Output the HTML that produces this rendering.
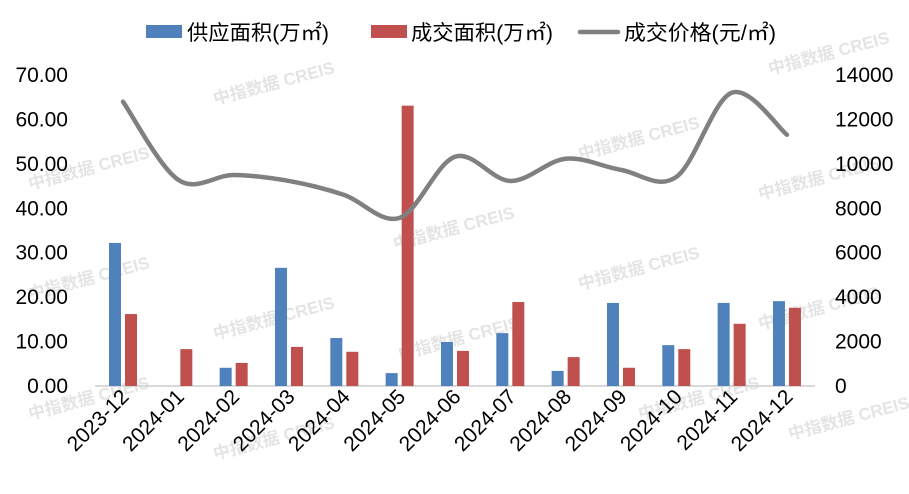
<!DOCTYPE html>
<html><head><meta charset="utf-8"><style>
body{margin:0;background:#fff}
svg{display:block;font-family:"Liberation Sans","Noto Sans CJK SC",sans-serif}
</style></head><body>
<svg id="c" width="909" height="494" viewBox="0 0 909 494">
<g id="wm" fill="#d9d9d9" font-size="17" font-weight="bold" opacity="0.7"></g>
<g id="ax"></g><g id="bars"></g><g id="ln"></g>
<g font-size="21" fill="#000">
<rect x="146" y="25" width="36" height="13" fill="#4f81bd"/>
<text x="187" y="40" textLength="142" lengthAdjust="spacingAndGlyphs">供应面积(万㎡)</text>
<rect x="371" y="25" width="36" height="13" fill="#c0504d"/>
<text x="411" y="40" textLength="142" lengthAdjust="spacingAndGlyphs">成交面积(万㎡)</text>
<line x1="580" y1="32" x2="618" y2="32" stroke="#808080" stroke-width="4.5" stroke-linecap="round"/>
<text x="624" y="40" textLength="152" lengthAdjust="spacingAndGlyphs">成交价格(元/㎡)</text>
</g>
</svg>
<script>
const categories=["2023-12","2024-01","2024-02","2024-03","2024-04","2024-05","2024-06","2024-07","2024-08","2024-09","2024-10","2024-11","2024-12"];
const supply=[32.2,0,4.1,26.6,10.8,2.9,9.9,11.9,3.4,18.7,9.2,18.7,19.1];
const deal=[16.2,8.3,5.2,8.8,7.7,63.1,7.9,18.9,6.5,4.1,8.3,14.0,17.6];
const price=[12800,9280,9500,9230,8600,7570,10320,9230,10230,9730,9410,13200,11310];
const leftTicks=["0.00","10.00","20.00","30.00","40.00","50.00","60.00","70.00"];
const rightTicks=["0","2000","4000","6000","8000","10000","12000","14000"];
const NS="http://www.w3.org/2000/svg";
const y0=386,yTop=75;
const yL=v=>y0-(v/70)*(y0-yTop);
const yR=v=>y0-(v/14000)*(y0-yTop);
const xC=i=>123+i*55.33;
function mk(t,a,p){const e=document.createElementNS(NS,t);for(const k in a)e.setAttribute(k,a[k]);p.appendChild(e);return e;}
const ax=document.getElementById('ax');
const base=mk('line',{x1:95,x2:815,y1:y0,y2:y0,stroke:'#d9d9d9','stroke-width':2},ax);


leftTicks.forEach((t,i)=>{const e=mk('text',{x:68,y:yL(i*10)+7,'text-anchor':'end','font-size':21},ax);e.textContent=t;

});
rightTicks.forEach((t,i)=>{const e=mk('text',{x:835,y:yR(i*2000)+7,'font-size':21},ax);e.textContent=t;

});
categories.forEach((c,i)=>{const x=xC(i)+7,y=398;const e=mk('text',{x:x,y:y,'text-anchor':'end','font-size':21,transform:`rotate(-45 ${x} ${y})`},ax);e.textContent=c;

});
const bars=document.getElementById('bars');
categories.forEach((c,i)=>{
 const b=mk('rect',{x:xC(i)-14,y:yL(supply[i]),width:12,height:y0-yL(supply[i]),fill:'#4f81bd'},bars);
 
 
 const r=mk('rect',{x:xC(i)+2,y:yL(deal[i]),width:12,height:y0-yL(deal[i]),fill:'#c0504d'},bars);
 
 
});
const pts=price.map((v,i)=>[xC(i),yR(v)]);
let d=`M${pts[0][0]},${pts[0][1]}`;
for(let i=0;i<pts.length-1;i++){const p0=pts[i-1]||pts[i],p1=pts[i],p2=pts[i+1],p3=pts[i+2]||p2;const t=6;
d+=` C${p1[0]+(p2[0]-p0[0])/t},${p1[1]+(p2[1]-p0[1])/t} ${p2[0]-(p3[0]-p1[0])/t},${p2[1]-(p3[1]-p1[1])/t} ${p2[0]},${p2[1]}`;}
const pl=mk('path',{d:d,fill:'none',stroke:'#808080','stroke-width':4.5,'stroke-linecap':'round'},document.getElementById('ln'));


const wm=document.getElementById('wm');
[[215,105],[30,190],[395,250],[580,160],[770,75],[30,300],[215,340],[400,360],[580,290],[760,200],[30,420],[215,460],[640,420],[760,330],[790,440]].forEach(p=>{
 const e=mk('text',{x:p[0],y:p[1],transform:`rotate(-15 ${p[0]} ${p[1]})`},wm);e.textContent='中指数据 CREIS';
 
 
});
</script>
</body></html>
